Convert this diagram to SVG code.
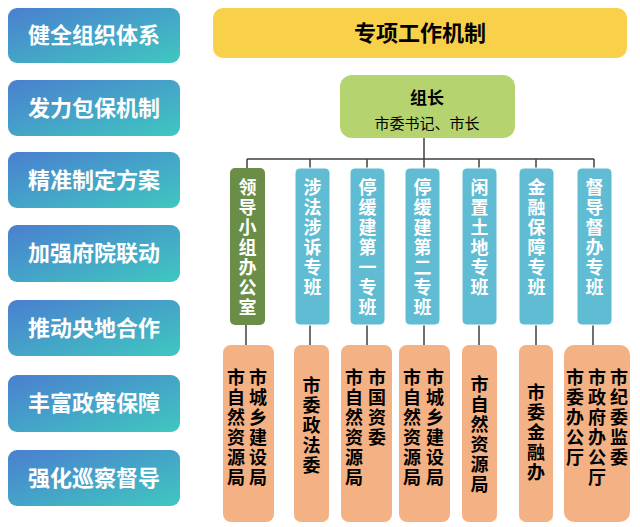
<svg xmlns="http://www.w3.org/2000/svg" width="640" height="527" viewBox="0 0 640 527">
<defs>
<linearGradient id="g" x1="0" y1="0" x2="1" y2="1"><stop offset="0" stop-color="#4a7fd0"/><stop offset="1" stop-color="#3fc8c0"/></linearGradient>
<style>
.btn{fill:url(#g)}
.bt{fill:#fff;font:bold 22px "Noto Sans CJK SC",sans-serif;text-anchor:middle}
.mid{fill:#5fbcd3;stroke:#fff;stroke-width:1}
.mt{fill:#fff;font:bold 18px "Noto Sans CJK SC",sans-serif;text-anchor:middle}
.bot{fill:#f4b183}
.ot{fill:#000;font:bold 18px "Noto Sans CJK SC",sans-serif;text-anchor:middle}
.ln{stroke:#404040;stroke-width:1.5;fill:none}
</style>
</defs>
<rect width="640" height="527" fill="#fff"/>
<g id="left">
<rect class="btn" x="8" y="8" width="172" height="55" rx="9"/><text class="bt" x="94" y="43">健全组织体系</text>
<rect class="btn" x="8" y="80" width="172" height="56" rx="9"/><text class="bt" x="94" y="116">发力包保机制</text>
<rect class="btn" x="8" y="152" width="172" height="56" rx="9"/><text class="bt" x="94" y="188">精准制定方案</text>
<rect class="btn" x="8" y="225" width="172" height="57" rx="9"/><text class="bt" x="94" y="261">加强府院联动</text>
<rect class="btn" x="8" y="300" width="172" height="56" rx="9"/><text class="bt" x="94" y="336">推动央地合作</text>
<rect class="btn" x="8" y="375" width="172" height="57" rx="9"/><text class="bt" x="94" y="411">丰富政策保障</text>
<rect class="btn" x="8" y="450" width="172" height="56" rx="9"/><text class="bt" x="94" y="486">强化巡察督导</text>
</g>
<g id="title"><rect x="213" y="8" width="414" height="50" rx="10" fill="#f9d04a"/><text x="420" y="41" style="font:bold 22px 'Noto Sans CJK SC',sans-serif;text-anchor:middle">专项工作机制</text></g>
<g id="leader"><rect x="340" y="75" width="175" height="63" rx="12" fill="#b5d36f"/><text x="427" y="104" style="font:bold 17px 'Noto Sans CJK SC',sans-serif;text-anchor:middle">组长</text><text x="427" y="129" style="font:15px 'Noto Sans CJK SC',sans-serif;text-anchor:middle">市委书记、市长</text></g>
<g id="connectors" class="ln">
<path d="M424 138V159M247 159H594M247 159V168M310 159V168M367 159V168M424 159V168M479 159V168M536 159V168M594 159V168"/>
<path d="M246 325V345M310 325V345M367 325V345M424 325V345M479 325V345M536 325V345M593 325V345"/>
</g>
<g id="mid">
<rect x="230" y="168" width="35" height="157" rx="5" fill="#6a8e47"/>
<text class="mt"><tspan x="247.5" y="194">领</tspan><tspan x="247.5" y="214">导</tspan><tspan x="247.5" y="234">小</tspan><tspan x="247.5" y="254">组</tspan><tspan x="247.5" y="274">办</tspan><tspan x="247.5" y="294">公</tspan><tspan x="247.5" y="314">室</tspan></text>
<rect class="mid" x="295" y="168" width="35" height="157" rx="5"/>
<text class="mt"><tspan x="312.5" y="194">涉</tspan><tspan x="312.5" y="214">法</tspan><tspan x="312.5" y="234">涉</tspan><tspan x="312.5" y="254">诉</tspan><tspan x="312.5" y="274">专</tspan><tspan x="312.5" y="294">班</tspan></text>
<rect class="mid" x="350" y="168" width="35" height="157" rx="5"/>
<text class="mt"><tspan x="367.5" y="194">停</tspan><tspan x="367.5" y="214">缓</tspan><tspan x="367.5" y="234">建</tspan><tspan x="367.5" y="254">第</tspan><tspan x="367.5" y="274">一</tspan><tspan x="367.5" y="294">专</tspan><tspan x="367.5" y="314">班</tspan></text>
<rect class="mid" x="405" y="168" width="35" height="157" rx="5"/>
<text class="mt"><tspan x="422.5" y="194">停</tspan><tspan x="422.5" y="214">缓</tspan><tspan x="422.5" y="234">建</tspan><tspan x="422.5" y="254">第</tspan><tspan x="422.5" y="274">二</tspan><tspan x="422.5" y="294">专</tspan><tspan x="422.5" y="314">班</tspan></text>
<rect class="mid" x="462" y="168" width="35" height="157" rx="5"/>
<text class="mt"><tspan x="479.5" y="194">闲</tspan><tspan x="479.5" y="214">置</tspan><tspan x="479.5" y="234">土</tspan><tspan x="479.5" y="254">地</tspan><tspan x="479.5" y="274">专</tspan><tspan x="479.5" y="294">班</tspan></text>
<rect class="mid" x="519" y="168" width="35" height="157" rx="5"/>
<text class="mt"><tspan x="536.5" y="194">金</tspan><tspan x="536.5" y="214">融</tspan><tspan x="536.5" y="234">保</tspan><tspan x="536.5" y="254">障</tspan><tspan x="536.5" y="274">专</tspan><tspan x="536.5" y="294">班</tspan></text>
<rect class="mid" x="577" y="168" width="35" height="157" rx="5"/>
<text class="mt"><tspan x="594.5" y="194">督</tspan><tspan x="594.5" y="214">导</tspan><tspan x="594.5" y="234">督</tspan><tspan x="594.5" y="254">办</tspan><tspan x="594.5" y="274">专</tspan><tspan x="594.5" y="294">班</tspan></text>
</g>
<g id="bottom">
<rect class="bot" x="223" y="345" width="51" height="177" rx="8"/>
<text class="ot"><tspan x="258" y="384">市</tspan><tspan x="258" y="404">城</tspan><tspan x="258" y="424">乡</tspan><tspan x="258" y="444">建</tspan><tspan x="258" y="464">设</tspan><tspan x="258" y="484">局</tspan></text>
<text class="ot"><tspan x="236" y="384">市</tspan><tspan x="236" y="404">自</tspan><tspan x="236" y="424">然</tspan><tspan x="236" y="444">资</tspan><tspan x="236" y="464">源</tspan><tspan x="236" y="484">局</tspan></text>
<rect class="bot" x="294" y="345" width="35" height="177" rx="7"/>
<text class="ot"><tspan x="311.5" y="392">市</tspan><tspan x="311.5" y="412">委</tspan><tspan x="311.5" y="432">政</tspan><tspan x="311.5" y="452">法</tspan><tspan x="311.5" y="472">委</tspan></text>
<rect class="bot" x="341" y="345" width="51" height="177" rx="8"/>
<text class="ot"><tspan x="377" y="384">市</tspan><tspan x="377" y="404">国</tspan><tspan x="377" y="424">资</tspan><tspan x="377" y="444">委</tspan></text>
<text class="ot"><tspan x="354" y="384">市</tspan><tspan x="354" y="404">自</tspan><tspan x="354" y="424">然</tspan><tspan x="354" y="444">资</tspan><tspan x="354" y="464">源</tspan><tspan x="354" y="484">局</tspan></text>
<rect class="bot" x="399" y="345" width="51" height="177" rx="8"/>
<text class="ot"><tspan x="435" y="384">市</tspan><tspan x="435" y="404">城</tspan><tspan x="435" y="424">乡</tspan><tspan x="435" y="444">建</tspan><tspan x="435" y="464">设</tspan><tspan x="435" y="484">局</tspan></text>
<text class="ot"><tspan x="412" y="384">市</tspan><tspan x="412" y="404">自</tspan><tspan x="412" y="424">然</tspan><tspan x="412" y="444">资</tspan><tspan x="412" y="464">源</tspan><tspan x="412" y="484">局</tspan></text>
<rect class="bot" x="462" y="345" width="35" height="177" rx="7"/>
<text class="ot"><tspan x="479.5" y="391">市</tspan><tspan x="479.5" y="411">自</tspan><tspan x="479.5" y="431">然</tspan><tspan x="479.5" y="451">资</tspan><tspan x="479.5" y="471">源</tspan><tspan x="479.5" y="491">局</tspan></text>
<rect class="bot" x="519" y="345" width="34" height="177" rx="7"/>
<text class="ot"><tspan x="536" y="399">市</tspan><tspan x="536" y="419">委</tspan><tspan x="536" y="439">金</tspan><tspan x="536" y="459">融</tspan><tspan x="536" y="479">办</tspan></text>
<rect class="bot" x="564" y="345" width="66" height="177" rx="10"/>
<text class="ot"><tspan x="619" y="384">市</tspan><tspan x="619" y="404">纪</tspan><tspan x="619" y="424">委</tspan><tspan x="619" y="444">监</tspan><tspan x="619" y="464">委</tspan></text>
<text class="ot"><tspan x="597" y="384">市</tspan><tspan x="597" y="404">政</tspan><tspan x="597" y="424">府</tspan><tspan x="597" y="444">办</tspan><tspan x="597" y="464">公</tspan><tspan x="597" y="484">厅</tspan></text>
<text class="ot"><tspan x="575" y="384">市</tspan><tspan x="575" y="404">委</tspan><tspan x="575" y="424">办</tspan><tspan x="575" y="444">公</tspan><tspan x="575" y="464">厅</tspan></text>
</g>
</svg>
